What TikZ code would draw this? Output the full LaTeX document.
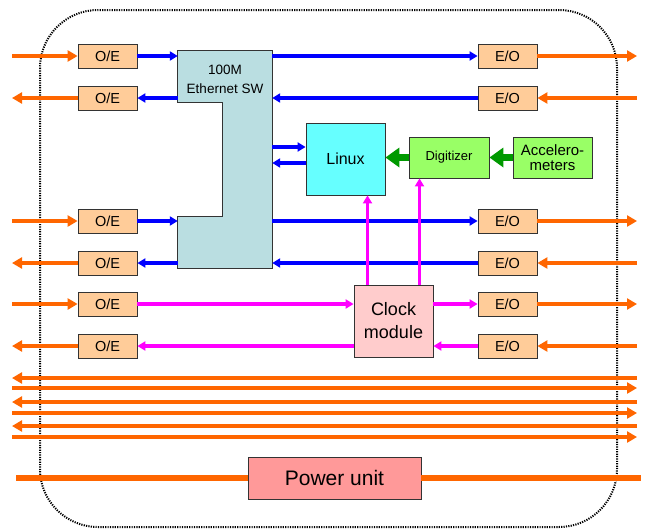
\documentclass[tikz,border=0pt]{standalone}
\usepackage{fontspec}
\setmainfont{Liberation Sans}
\usetikzlibrary{arrows.meta, positioning, calc}

\definecolor{peach}{HTML}{FFCC99}
\definecolor{swblue}{RGB}{186,222,225}
\definecolor{linuxcyan}{HTML}{66FFFF}
\definecolor{adcgreen}{HTML}{99FF66}
\definecolor{siggreen}{HTML}{009900}
\definecolor{clockpink}{HTML}{FFCCCC}
\definecolor{powerred}{HTML}{FF9999}
\definecolor{fiberorange}{HTML}{FF6600}
\definecolor{lanblue}{HTML}{0000FF}
\definecolor{clkmagenta}{HTML}{FF00FF}

\begin{document}
\begin{tikzpicture}[
    x=1pt, y=-1pt,
    box/.style={rectangle, draw=black!80, line width=0.8pt, inner sep=0pt, align=center},
    conv/.style={box, fill=peach, minimum width=59pt, minimum height=24pt, font=\fontsize{14.5}{16}\selectfont},
    fiber/.style={draw=fiberorange, line width=4pt},
    fiberarrow/.style={fiber, -{Triangle[length=10pt, width=11pt]}},
    lan/.style={draw=lanblue, line width=3.2pt, -{Triangle[length=8pt, width=9pt]}},
    clk/.style={draw=clkmagenta, line width=3.2pt, -{Triangle[length=8pt, width=9pt]}},
    sig/.style={draw=siggreen, line width=7pt, -{Triangle[length=14pt, width=19pt]}}
]
    \useasboundingbox (0,0) rectangle (645,530);

    % enclosure
    \draw[dash pattern=on 1.2pt off 1.2pt, line width=2pt, rounded corners=58pt] (40,10) rectangle (617,527);

    % converters
    \node[conv] (oe1) at (107.5,56) {O/E};
    \node[conv] (oe2) at (107.5,98) {O/E};
    \node[conv] (oe3) at (107.5,221) {O/E};
    \node[conv] (oe4) at (107.5,263) {O/E};
    \node[conv] (oe5) at (107.5,304) {O/E};
    \node[conv] (oe6) at (107.5,346) {O/E};
    \node[conv] (eo1) at (507.5,56) {E/O};
    \node[conv] (eo2) at (507.5,98) {E/O};
    \node[conv] (eo3) at (507.5,221) {E/O};
    \node[conv] (eo4) at (507.5,263) {E/O};
    \node[conv] (eo5) at (507.5,304) {E/O};
    \node[conv] (eo6) at (507.5,346) {E/O};

    % ethernet switch
    \node[minimum width=94pt, minimum height=217pt, inner sep=0pt] (sw) at (225,159.5) {};
    \filldraw[fill=swblue, draw=black!80, line width=0.8pt]
        (sw.north west) -- (sw.north east) -- (sw.south east) -- (sw.south west)
        -- ++(0,-52) -- ++(45,0) -- ++(0,-114) -- ++(-45,0) -- cycle;
    \node[align=center, font=\fontsize{13.5}{19}\selectfont] (swtext) at ([yshift=-29pt]sw.north) {100M\\Ethernet SW};

    \node[box, fill=linuxcyan, minimum width=79pt, minimum height=72pt, font=\fontsize{16}{18}\selectfont] (linux) at (345.5,159) {Linux};
    \node[box, fill=adcgreen, minimum width=80pt, minimum height=41pt, font=\fontsize{13}{15}\selectfont] (digit) at (449,157.5) {Digitizer};
    \node[box, fill=adcgreen, minimum width=79pt, minimum height=41pt, font=\fontsize{15}{14.5}\selectfont] (accel) at (552.5,157.5) {Accelero-\\meters};
    \node[box, fill=clockpink, minimum width=79pt, minimum height=72pt, font=\fontsize{18}{23}\selectfont] (clock) at (393.5,321) {Clock\\module};
    \node[box, fill=powerred, minimum width=173pt, minimum height=42pt, font=\fontsize{21}{24}\selectfont] (pwr) at (334.5,478) {Power unit};

    \coordinate (edgeL) at (12,0);
    \coordinate (edgeR) at (637,0);
    \coordinate (pwrL) at (16,0);
    \coordinate (pwrR) at (641,0);

    % ethernet links
    \foreach \i in {1,3} {
        \draw[lan] (oe\i) -- (oe\i -| sw.west);
        \draw[lan] (eo\i -| sw.east) -- (eo\i);
    }
    \foreach \i in {2,4} {
        \draw[lan] (oe\i -| sw.west) -- (oe\i);
        \draw[lan] (eo\i) -- (eo\i -| sw.east);
    }
    \draw[lan] ([yshift=12pt]linux.west -| sw.east) -- ([yshift=12pt]linux.west);
    \draw[lan] ([yshift=-4pt]linux.west) -- ([yshift=-4pt]linux.west -| sw.east);

    % sensor signal
    \draw[sig] (accel.west) -- (accel.west -| digit.east);
    \draw[sig] (digit.west) -- (digit.west -| linux.east);

    % clock distribution
    \draw[clk] (oe5) -- (oe5 -| clock.west);
    \draw[clk] (clock.west |- oe6) -- (oe6);
    \draw[clk] (clock.east |- eo5) -- (eo5);
    \draw[clk] (eo6) -- (eo6 -| clock.east);
    \draw[clk] ([xshift=-26pt]clock.north) -- ([xshift=-26pt]clock.north |- linux.south);
    \draw[clk] ([xshift=26pt]clock.north) -- ([xshift=26pt]clock.north |- digit.south);

    % optical fibers
    \foreach \i in {1,3,5} {
        \draw[fiberarrow] (oe\i -| edgeL) -- (oe\i);
        \draw[fiberarrow] (eo\i) -- (eo\i -| edgeR);
    }
    \foreach \i in {2,4,6} {
        \draw[fiberarrow] (oe\i) -- (oe\i -| edgeL);
        \draw[fiberarrow] (eo\i -| edgeR) -- (eo\i);
    }
    \foreach \y in {378,402,426}
        \draw[fiberarrow] (edgeR |- 0,\y) -- (edgeL |- 0,\y);
    \foreach \y in {388,413,437}
        \draw[fiberarrow] (edgeL |- 0,\y) -- (edgeR |- 0,\y);

    % power line
    \draw[fiber, line width=6pt] (pwrL |- pwr) -- (pwr);
    \draw[fiber, line width=6pt] (pwr) -- (pwrR |- pwr);
\end{tikzpicture}
\end{document}
